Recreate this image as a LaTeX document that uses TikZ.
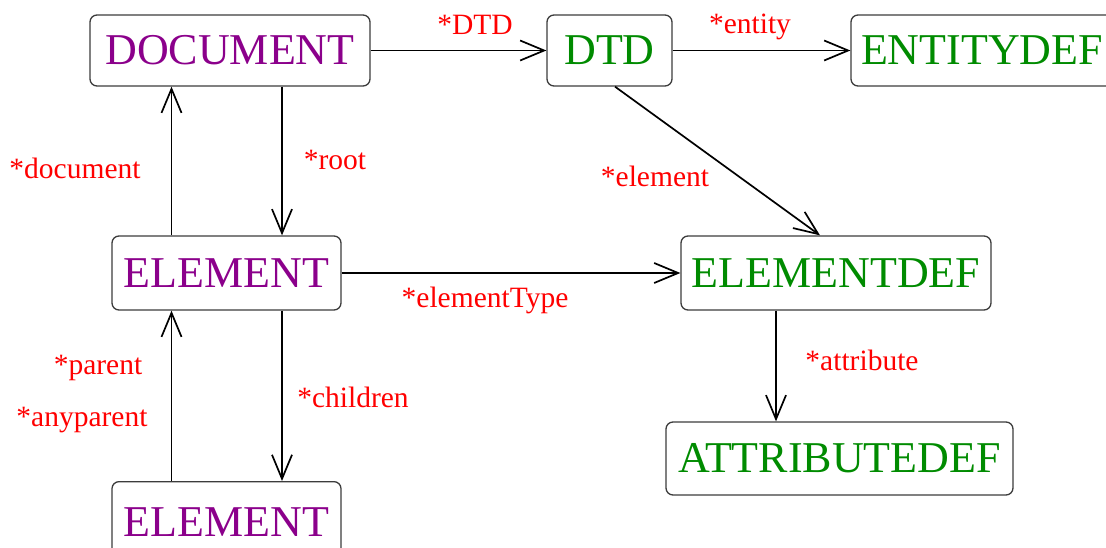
\documentclass[tikz,border=0pt]{standalone}
\usepackage{fontspec}
\setmainfont{Liberation Serif}
\usetikzlibrary{arrows.meta}
\definecolor{dpurple}{RGB}{139,0,139}
\definecolor{dgreen}{RGB}{0,139,0}
\definecolor{boxline}{RGB}{60,60,60}
\tikzset{
  box/.style={draw=boxline, line width=1.3pt, rounded corners=7pt, inner sep=0pt,
    font=\fontsize{44}{50}\selectfont},
  pbox/.style={box, text=dpurple},
  gbox/.style={box, text=dgreen},
  arr/.style={line width=1.7pt, -{Straight Barb[length=24pt,width=20pt,line width=1.7pt]}},
  lbl/.style={text=red, font=\fontsize{29.5}{32}\selectfont, inner sep=0pt}
}
\begin{document}
\begin{tikzpicture}[x=1pt,y=-1pt]
\useasboundingbox (0,0) rectangle (1106,548);
\begin{scope}
\clip (0,0) rectangle (1106,548);
\node[pbox, minimum width=280pt, minimum height=71pt] (doc) at (230,50.5) {DOCUMENT};
\node[gbox, minimum width=125pt, minimum height=71pt] (dtd) at (609.5,50.5) {DTD};
\node[gbox, minimum width=275pt, minimum height=71pt, text width=255pt, align=left] (ent) at (988.5,50.5) {ENTITYDEF};
\node[pbox, minimum width=229pt, minimum height=74pt] (elem) at (226.5,273) {ELEMENT};
\node[gbox, minimum width=310pt, minimum height=74pt] (edef) at (836,273) {ELEMENTDEF};
\node[gbox, minimum width=347pt, minimum height=73pt] (adef) at (839.5,458.5) {ATTRIBUTEDEF};
\node[pbox, minimum width=229pt, minimum height=80pt, anchor=north] (elemb) at (226.5,481) {ELEMENT};
\end{scope}

\draw[arr] (doc.east) -- (dtd.west);
\draw[arr] (dtd.east) -- (ent.west);
\coordinate (r1) at ([xshift=52pt]doc.south);
\draw[arr] (r1) -- (r1 |- elem.north);
\coordinate (d1) at ([xshift=-55pt]elem.north);
\draw[arr] (d1) -- (d1 |- doc.south);
\draw[arr] ([xshift=5.5pt]dtd.south) -- ([xshift=-16pt]edef.north);
\draw[arr] (elem.east) -- (edef.west);
\coordinate (a1) at ([xshift=-60pt]edef.south);
\draw[arr] (a1) -- (a1 |- adef.north);
\coordinate (c1) at ([xshift=55.5pt]elem.south);
\draw[arr] (c1) -- (c1 |- elemb.north);
\coordinate (p1) at ([xshift=-55pt]elemb.north);
\draw[arr] (p1) -- (p1 |- elem.south);

\node[lbl] (lDTD) at (475,25) {*DTD};
\node[lbl] (lent) at (750,27) {*entity};
\node[lbl] (lroot) at (335,160) {*root};
\node[lbl] (ldoc) at (75,168) {*document};
\node[lbl] (lelem) at (655,176) {*element};
\node[lbl] (letype) at (485,300) {*elementType};
\node[lbl] (lattr) at (862,360) {*attribute};
\node[lbl] (lchild) at (353,397) {*children};
\node[lbl] (lpar) at (98,368) {*parent};
\node[lbl] (lany) at (82,420) {*anyparent};
\end{tikzpicture}
\end{document}
